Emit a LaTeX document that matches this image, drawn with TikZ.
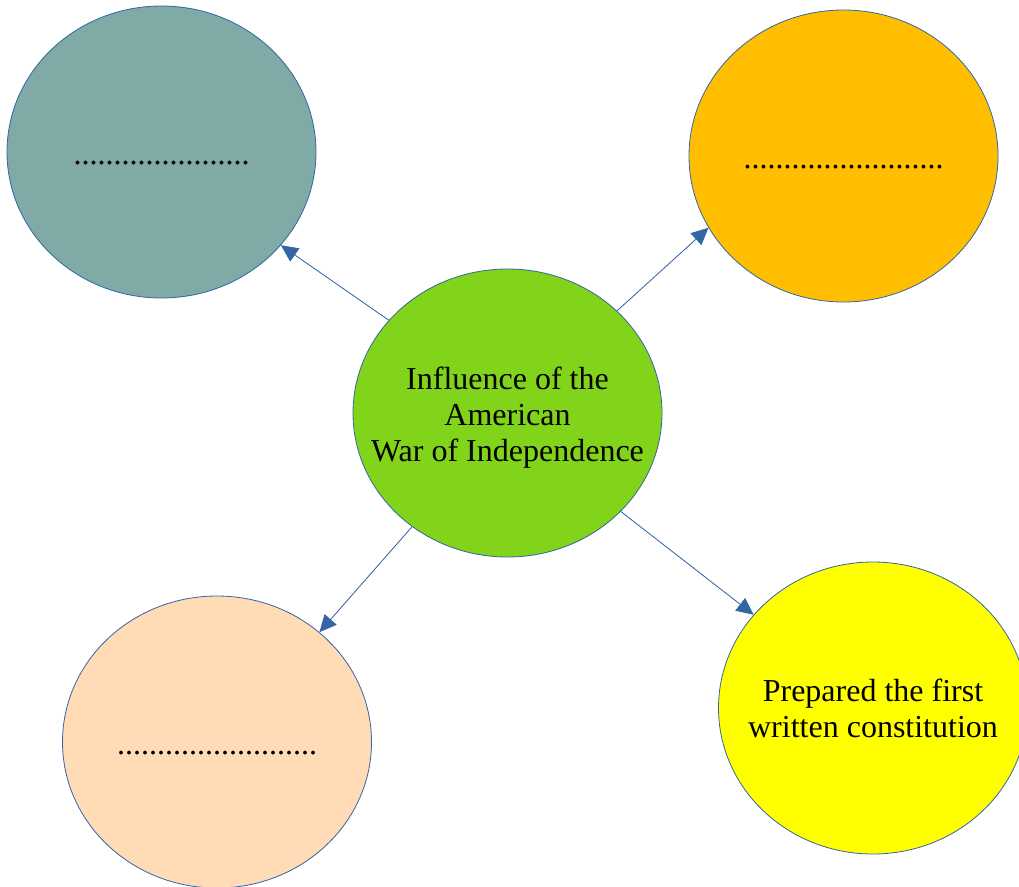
\documentclass[tikz,border=0pt]{standalone}
\usepackage{fontspec}
\setmainfont{Liberation Serif}
\usetikzlibrary{shapes.geometric, arrows.meta}
\definecolor{bord}{HTML}{3465A4}
\definecolor{tealf}{HTML}{80AAA5}
\definecolor{orangef}{HTML}{FFBF00}
\definecolor{greenf}{HTML}{81D41A}
\definecolor{peachf}{HTML}{FFDBB6}
\definecolor{yellowf}{HTML}{FFFF00}
\tikzset{
  ov/.style={ellipse, minimum width=309pt, minimum height=292pt, inner xsep=-30pt, inner ysep=0pt, text centered, align=center, draw=bord, line width=0.8pt, font=\fontsize{32}{36}\selectfont},
  dt/.style={text height=35pt, text depth=11pt},
  ar/.style={-{Triangle[length=17pt,width=16pt]}, draw=bord, line width=0.8pt, fill=bord}
}

\begin{document}
\begin{tikzpicture}[x=1pt, y=-1pt]
	\useasboundingbox (0,0) rectangle (1019,886);
	\node[ov, dt, fill=tealf] (ul) at (161.5,152) {......................};
	\node[ov, dt, fill=orangef] (ur) at (843.5,156) {.........................};
	\node[ov, fill=greenf, minimum height=288pt, text height=103pt] (infl) at (507.5,413) {Influence of the\\American\\War of Independence};
	\node[ov, dt, fill=peachf] (ll) at (217,742) {.........................};
	\node[ov, fill=yellowf, text height=60pt] (constit) at (873,708) {Prepared the first\\written constitution};
	%
	\draw[ar] (infl.142) -- (ul.322);
	\draw[ar] (infl.43) -- (ur.208);
	\draw[ar] (infl.230) -- (ll.47);
	\draw[ar] (infl.319) -- (constit.142);
\end{tikzpicture}
\end{document}
